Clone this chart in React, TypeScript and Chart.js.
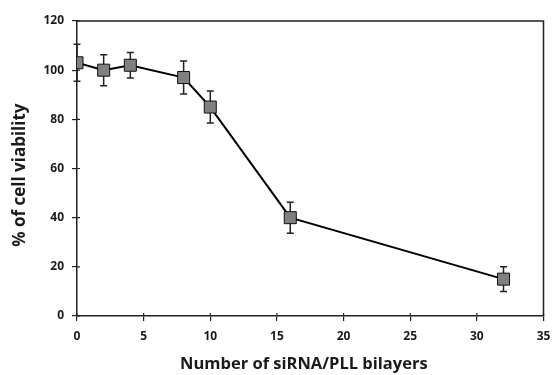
import React, { useEffect, useRef } from "react";
import { Chart, registerables } from "chart.js";

Chart.register(...registerables);

const bilayers = [0, 2, 4, 8, 10, 16, 32];
const viability = [103, 100, 102, 97, 85, 40, 15];
const errors = [7.5, 6.3, 5.2, 6.7, 6.5, 6.3, 5];

const FONT = "'Open Sans', 'DejaVu Sans', sans-serif";

const errorBarPlugin = {
  id: "errorBars",
  beforeDatasetsDraw(chart: any) {
    const ctx = chart.ctx;
    const xs = chart.scales.x;
    const ys = chart.scales.y;
    ctx.save();
    ctx.strokeStyle = "#222";
    ctx.lineWidth = 1.5;
    bilayers.forEach((bx, i) => {
      const px = xs.getPixelForValue(bx);
      const top = ys.getPixelForValue(viability[i] + errors[i]);
      const bot = ys.getPixelForValue(viability[i] - errors[i]);
      ctx.beginPath();
      ctx.moveTo(px, top);
      ctx.lineTo(px, bot);
      ctx.moveTo(px - 3.5, top);
      ctx.lineTo(px + 3.5, top);
      ctx.moveTo(px - 3.5, bot);
      ctx.lineTo(px + 3.5, bot);
      ctx.stroke();
    });
    ctx.restore();
  },
  afterDraw(chart: any) {
    const ctx = chart.ctx;
    const { left, right, top, bottom } = chart.chartArea;
    const xs = chart.scales.x;
    const ys = chart.scales.y;
    ctx.save();
    ctx.strokeStyle = "#222";
    ctx.lineWidth = 1.5;
    ctx.beginPath();
    ctx.moveTo(left, top);
    ctx.lineTo(right, top);
    ctx.lineTo(right, bottom);
    ctx.stroke();
    ctx.lineWidth = 1.2;
    ctx.beginPath();
    xs.ticks.forEach((t: any) => {
      const px = xs.getPixelForValue(t.value);
      ctx.moveTo(px, bottom);
      ctx.lineTo(px, bottom - 3);
    });
    ys.ticks.forEach((t: any) => {
      const py = ys.getPixelForValue(t.value);
      ctx.moveTo(left, py);
      ctx.lineTo(left + 3, py);
    });
    ctx.stroke();
    ctx.restore();
  },
};

export default function App() {
  const ref = useRef<HTMLCanvasElement>(null);
  useEffect(() => {
    if (!ref.current) return;
    const chart = new Chart(ref.current, {
      type: "line",
      data: {
        datasets: [
          {
            data: bilayers.map((x, i) => ({ x, y: viability[i] })),
            borderColor: "#000",
            borderWidth: 2,
            pointStyle: "rect",
            pointRadius: 8.5,
            pointHoverRadius: 8.5,
            pointBackgroundColor: "#808080",
            pointBorderColor: "#111",
            pointBorderWidth: 1,
            tension: 0,
          },
        ],
      },
      options: {
        animation: false,
        responsive: false,
        maintainAspectRatio: false,
        layout: { padding: { left: 0, right: 9, top: 21, bottom: 0 } },
        plugins: {
          legend: { display: false },
          tooltip: { enabled: false },
        },
        scales: {
          x: {
            type: "linear",
            min: 0,
            max: 35,
            ticks: {
              stepSize: 5,
              color: "#1a1a1a",
              font: { family: FONT, weight: "bold", size: 12 },
              padding: 8,
            },
            grid: {
              drawOnChartArea: false,
              drawTicks: true,
              tickLength: 5,
              color: "#222",
              lineWidth: 1.2,
            },
            border: { display: true, color: "#222", width: 1.5 },
            title: {
              display: true,
              text: "Number of siRNA/PLL bilayers   ",
              color: "#1a1a1a",
              font: { family: FONT, weight: "bold", size: 16.5 },
              padding: { top: 0, bottom: 1 },
            },
            afterFit(scale: any) {
              scale.height = 59;
              scale.paddingLeft = 0;
              scale.paddingRight = 0;
            },
          },
          y: {
            type: "linear",
            min: 0,
            max: 120,
            ticks: {
              stepSize: 20,
              color: "#1a1a1a",
              font: { family: FONT, weight: "bold", size: 12 },
              padding: 8,
            },
            grid: {
              drawOnChartArea: false,
              drawTicks: true,
              tickLength: 5,
              color: "#222",
              lineWidth: 1.2,
            },
            border: { display: true, color: "#222", width: 1.5 },
            title: {
              display: true,
              text: "% of cell viability   ",
              color: "#1a1a1a",
              font: { family: FONT, weight: "bold", size: 17 },
              padding: { top: 10, bottom: 0 },
            },
            afterFit(scale: any) {
              scale.width = 77;
            },
          },
        },
      },
      plugins: [errorBarPlugin],
    });
    return () => chart.destroy();
  }, []);
  return (
    <div style={{ position: "absolute", left: 0, top: 0, width: 553, height: 375, background: "#fff" }}>
      <canvas ref={ref} width={553} height={375} style={{ width: 553, height: 375 }} />
    </div>
  );
}
